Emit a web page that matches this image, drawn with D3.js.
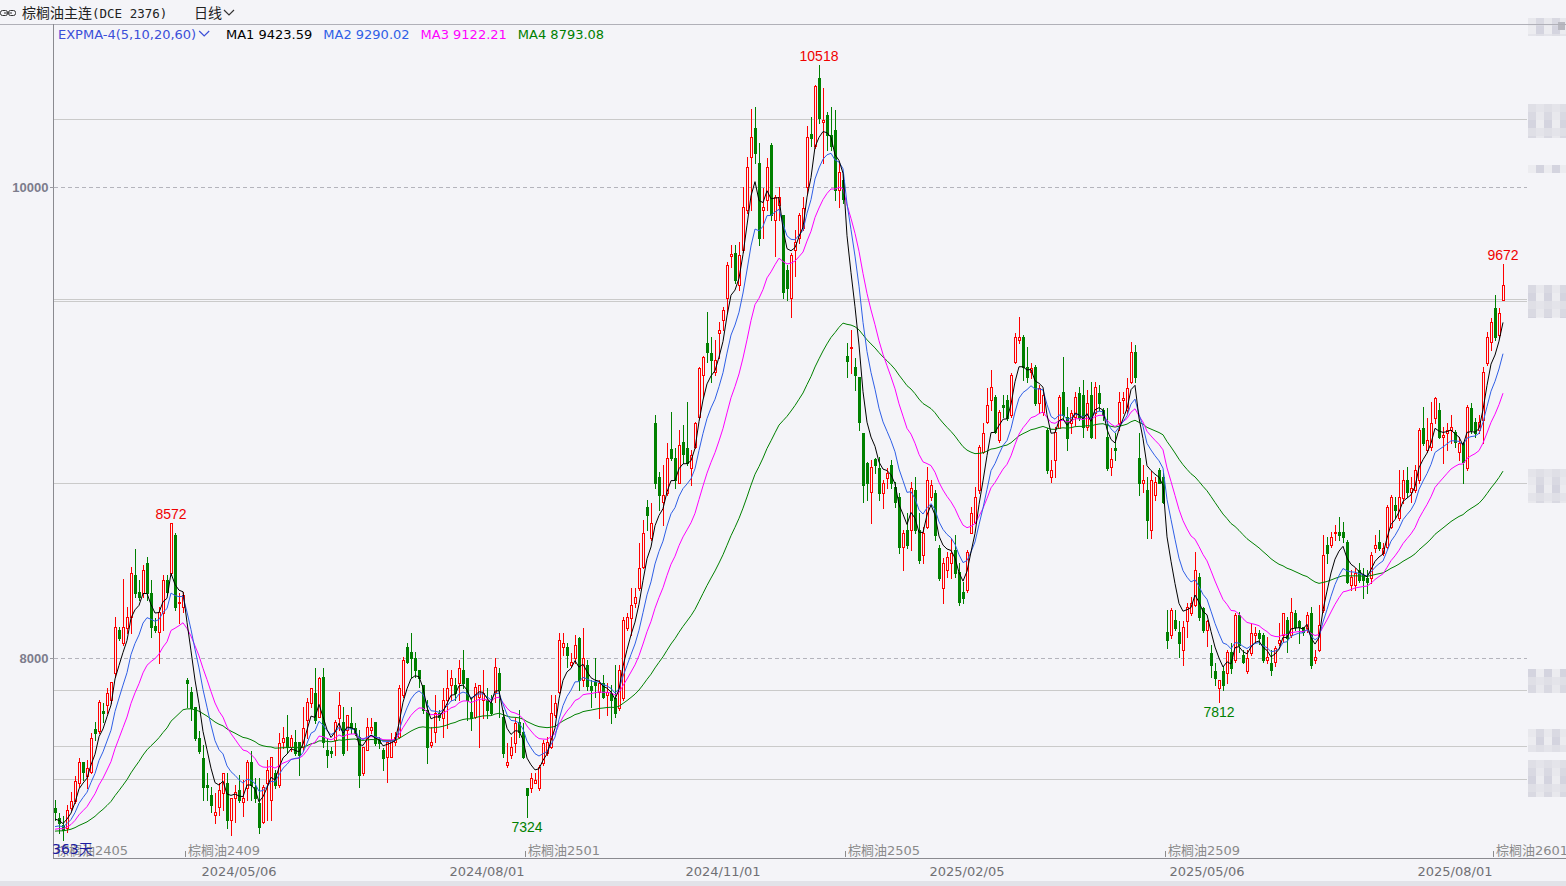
<!DOCTYPE html>
<html><head><meta charset="utf-8">
<script src="https://cdn.jsdelivr.net/npm/d3@7"></script>
<style>
html,body{margin:0;padding:0;background:#f4f4f8;}
svg{display:block;}
</style></head><body>
<svg id="c" width="1566" height="886"></svg>
<script>
// ---------- DATA ----------
// daily candles [open, high, low, close], 363 bars
const ohlc = [
// 0-9
[7362,7398,7312,7348],[7320,7341,7256,7299],[7291,7327,7228,7270],[7277,7377,7263,7355],[7362,7433,7355,7391],[7391,7497,7384,7476],[7469,7574,7454,7560],[7560,7560,7482,7518],[7497,7567,7447,7532],[7518,7681,7511,7659],
// 10-19
[7697,7730,7652,7681],[7688,7822,7681,7815],[7777,7808,7730,7765],[7801,7871,7765,7853],[7822,7900,7808,7900],[7935,8176,7921,8133],[8119,8133,8077,8084],[8062,8336,8055,8133],[8126,8218,8105,8176],[8176,8388,8105,8360],
// 20-29
[8353,8462,8261,8275],[8282,8331,8246,8261],[8275,8395,8261,8374],[8402,8430,8246,8275],[8275,8331,8091,8133],[8136,8169,8112,8119],[8112,8218,7978,8197],[8190,8353,8119,8331],[8331,8353,8268,8282],[8360,8572,8353,8572],
// 30-39
[8522,8530,8204,8218],[8232,8275,8147,8239],[8218,8282,8197,8268],[7907,7914,7794,7893],[7857,7878,7737,7787],[7794,7794,7652,7659],[7659,7688,7596,7603],[7574,7631,7398,7454],[7461,7511,7398,7454],[7419,7454,7348,7376],
// 40-49
[7334,7426,7298,7348],[7369,7468,7334,7440],[7426,7511,7355,7511],[7468,7511,7277,7313],[7313,7405,7249,7405],[7405,7461,7305,7433],[7440,7504,7390,7398],[7390,7482,7327,7405],[7447,7567,7398,7560],[7560,7603,7398,7461],
// 50-59
[7454,7489,7390,7405],[7383,7489,7256,7284],[7305,7461,7298,7454],[7468,7567,7313,7525],[7398,7581,7313,7581],[7511,7525,7447,7461],[7461,7681,7454,7638],[7645,7709,7617,7659],[7666,7758,7596,7624],[7624,7673,7603,7659],
// 60-69
[7645,7695,7589,7596],[7645,7645,7503,7588],[7623,7793,7609,7701],[7737,7829,7659,7814],[7807,7871,7793,7871],[7850,7956,7722,7737],[7751,7921,7751,7913],[7921,7956,7623,7645],[7609,7659,7539,7588],[7606,7623,7581,7595],
// 70-79
[7652,7737,7588,7730],[7744,7857,7694,7800],[7730,7793,7588,7595],[7694,7758,7609,7758],[7722,7793,7680,7701],[7701,7722,7673,7680],[7666,7694,7454,7503],[7510,7623,7503,7623],[7609,7744,7609,7708],[7694,7744,7680,7708],
// 80-89
[7730,7730,7630,7638],[7652,7666,7616,7638],[7609,7616,7524,7574],[7581,7645,7475,7645],[7581,7680,7581,7652],[7645,7687,7630,7666],[7666,7885,7659,7871],[7843,8005,7836,7991],[8048,8062,7977,7984],[8027,8105,7921,7998],
// 90-99
[7998,8027,7921,7949],[7949,7949,7878,7913],[7885,7885,7765,7779],[7779,7822,7553,7623],[7630,7708,7623,7645],[7687,7843,7645,7765],[7765,7779,7737,7751],[7744,7871,7666,7822],[7822,7949,7701,7871],[7885,7949,7822,7913],
// 100-109
[7885,7913,7822,7850],[7892,7991,7822,7956],[7949,8034,7871,7892],[7913,7913,7737,7822],[7772,7836,7694,7744],[7751,7892,7744,7878],[7836,7885,7623,7885],[7822,7949,7744,7850],[7822,7871,7744,7779],[7807,7843,7758,7765],
// 110-119
[7857,7998,7814,7963],[7935,7956,7751,7864],[7751,7779,7581,7595],[7546,7638,7539,7560],[7588,7666,7574,7623],[7638,7744,7602,7722],[7730,7779,7666,7687],[7687,7722,7574,7581],[7447,7447,7324,7418],[7447,7510,7432,7489],
// 120-129
[7468,7510,7468,7482],[7447,7546,7440,7539],[7553,7652,7546,7638],[7595,7666,7588,7645],[7623,7843,7616,7765],[7758,7843,7751,7807],[7857,8105,7850,8076],[8048,8105,8013,8062],[8048,8062,7963,8013],[7970,8020,7963,7984],
// 130-139
[7998,8098,7977,8055],[8083,8090,7864,7906],[7907,8126,7879,7999],[7971,7992,7864,7879],[7879,7907,7794,7864],[7900,7999,7836,7886],[7857,7907,7744,7893],[7893,7928,7829,7836],[7843,7893,7758,7857],[7850,7886,7723,7822],
// 140-149
[7829,7971,7751,7765],[7787,7971,7779,7949],[7829,8176,7822,8161],[8126,8190,8119,8176],[8168,8296,8098,8225],[8232,8296,8218,8260],[8296,8487,8289,8381],[8388,8586,8381,8529],[8640,8671,8544,8607],[8508,8657,8501,8572],
// 150-159
[8996,9032,8720,8742],[8770,8791,8628,8692],[8664,8819,8565,8692],[8699,8912,8692,8848],[8886,9046,8841,8848],[8848,8890,8720,8756],[8742,8968,8742,8904],[8918,8989,8827,8866],[8890,9088,8819,8827],[8805,8883,8735,8862],
// 160-169
[8897,9003,8890,8996],[9025,9237,9018,9230],[9201,9282,9109,9279],[9336,9470,9258,9301],[9296,9364,9173,9265],[9216,9350,9202,9265],[9379,9428,9272,9393],[9435,9492,9393,9478],[9527,9683,9470,9669],[9705,9754,9662,9716],
// 170-179
[9719,9754,9591,9606],[9584,9768,9563,9712],[9733,10002,9726,9917],[9903,10129,9889,10087],[10129,10330,9903,10211],[10249,10341,10101,10143],[10101,10186,9754,9782],[9903,9995,9782,9917],[9945,10122,9903,10084],[10179,10186,9860,9882],
// 180-189
[9860,9966,9705,9959],[9924,10002,9860,9959],[9882,9882,9528,9556],[9648,9669,9521,9570],[9528,9719,9450,9712],[9733,9818,9620,9768],[9782,9889,9761,9882],[9825,9959,9818,9910],[10001,10257,9974,10213],[10225,10299,10172,10207],
// 190-199
[10172,10433,10165,10429],[10462,10518,10271,10292],[10278,10419,10101,10285],[10306,10320,10157,10221],[10221,10341,10157,10172],[10242,10327,9945,9988],[9988,10101,9917,10065],[10030,10060,9930,9950],[9282,9336,9195,9262],[9315,9393,9209,9322],
// 200-209
[9237,9272,9138,9202],[9195,9195,8968,9004],[8954,8954,8664,8735],[8827,8834,8671,8742],[8706,8841,8572,8812],[8844,8848,8784,8820],[8805,8855,8671,8699],[8699,8756,8636,8742],[8763,8805,8720,8784],[8820,8841,8720,8742],
// 210-219
[8728,8749,8643,8664],[8685,8699,8445,8473],[8473,8544,8374,8530],[8544,8614,8466,8480],[8544,8749,8459,8720],[8713,8770,8530,8544],[8544,8614,8402,8416],[8437,8558,8402,8530],[8558,8812,8551,8756],[8685,8756,8671,8735],
// 220-229
[8699,8713,8501,8522],[8466,8480,8331,8339],[8296,8423,8232,8402],[8374,8452,8346,8430],[8402,8508,8338,8445],[8459,8522,8346,8360],[8367,8402,8225,8239],[8282,8324,8232,8254],[8289,8459,8282,8452],[8530,8643,8530,8614],
// 230-239
[8579,8728,8572,8685],[8713,8904,8699,8897],[8876,8996,8869,8954],[9004,9145,8996,9074],[9096,9223,9053,9152],[9110,9117,8954,8961],[8926,9053,8919,9046],[9074,9117,9025,9067],[9096,9117,9011,9018],[9032,9209,9025,9202],
// 240-249
[9258,9378,9251,9364],[9350,9449,9336,9364],[9364,9371,9180,9237],[9237,9322,9173,9195],[9216,9251,9187,9230],[9237,9244,9074,9081],[9081,9159,9039,9145],[9046,9138,9032,9117],[8968,8975,8784,8798],[8770,8841,8749,8798],
// 250-259
[8841,8982,8770,8961],[8975,9117,8975,9110],[9131,9279,9011,9032],[9025,9067,8883,8933],[8996,9053,8954,9039],[9025,9131,8989,9110],[9124,9152,9011,9018],[9117,9180,8940,8982],[8982,9138,8968,9081],[9117,9173,8933,8940],
// 260-269
[9039,9173,8933,9152],[9124,9159,9053,9081],[9053,9060,9011,9032],[8940,9060,8798,8805],[8812,8890,8777,8844],[8890,8954,8841,8883],[8996,9131,8968,9088],[9096,9131,9039,9103],[9053,9187,9039,9145],[9173,9343,9166,9301],
// 270-279
[9301,9329,9173,9195],[8848,8954,8692,8742],[8742,8820,8707,8756],[8714,8770,8508,8586],[8544,8792,8508,8756],[8693,8770,8671,8749],[8799,8806,8742,8742],[8770,8785,8657,8664],[8112,8204,8042,8077],[8098,8211,8084,8204],
// 280-289
[8162,8204,8119,8126],[8112,8155,8006,8063],[8035,8155,7971,8133],[8155,8233,8091,8218],[8190,8261,8183,8232],[8226,8452,8219,8374],[8346,8360,8162,8176],[8211,8218,8112,8119],[8119,8162,8049,8155],[8020,8056,7921,7971],
// 290-299
[7943,7978,7886,7914],[7872,7907,7812,7907],[7943,7964,7865,7886],[7935,8034,7893,8027],[8027,8063,7935,7957],[7992,8190,7985,8183],[8183,8197,8027,8056],[8013,8035,7978,7985],[7943,8035,7935,7999],[8020,8148,8013,8105],
// 300-309
[8098,8133,8070,8105],[8105,8120,8060,8084],[8098,8105,7985,7992],[7992,8091,7978,8006],[7978,8035,7929,7950],[7985,8049,7964,8042],[8063,8148,8056,8077],[8098,8190,8070,8190],[8162,8176,8027,8084],[8098,8254,8091,8197],
// 310-319
[8190,8204,8119,8133],[8155,8162,8063,8133],[8133,8133,8098,8112],[8126,8197,8112,8183],[8190,8218,7957,7971],[7992,8035,7978,8006],[8035,8226,8028,8141],[8204,8523,8197,8438],[8480,8515,8402,8445],[8480,8537,8473,8515],
// 320-329
[8530,8565,8501,8537],[8537,8600,8501,8522],[8537,8579,8494,8515],[8494,8501,8317,8324],[8310,8374,8289,8346],[8310,8381,8289,8360],[8374,8402,8324,8331],[8353,8381,8254,8331],[8338,8374,8275,8324],[8338,8452,8317,8437],
// 330-339
[8466,8522,8452,8480],[8494,8544,8459,8466],[8445,8487,8437,8466],[8473,8650,8466,8643],[8558,8692,8551,8685],[8650,8685,8600,8628],[8593,8798,8586,8685],[8678,8798,8657,8756],[8756,8812,8685,8706],[8706,8770,8664,8720],
// 340-349
[8713,8819,8706,8798],[8756,8975,8742,8968],[8975,9067,8904,8911],[8883,9018,8876,8926],[8897,9088,8883,8996],[9018,9109,8996,9102],[9053,9081,8933,8940],[8940,8982,8827,8947],[8954,8996,8883,8968],[8968,9032,8911,8982],
// 350-359
[8961,8968,8897,8919],[8876,8940,8841,8911],[8911,8918,8742,8834],[8805,9074,8798,9067],[9060,9081,8954,8968],[9004,9018,8940,8954],[8968,9032,8954,9004],[9011,9237,8911,9216],[9251,9386,9244,9364],[9343,9442,9308,9428],
// 360-362
[9485,9541,9350,9364],[9371,9485,9357,9463],[9520,9672,9520,9584]
];

const titleName = "棕榈油主连";
const titleCode = "(DCE 2376)";
const periodLabel = "日线";
const emaPeriods = [5, 10, 20, 60];
const emaStart = [7300, 7270, 7265, 7262];           // level of each line at the left edge
const emaNames = ["MA1", "MA2", "MA3", "MA4"];
const emaLast = ["9423.59", "9290.02", "9122.21", "8793.08"];
const emaColors = ["#000000", "#2f5fe6", "#ff00ff", "#008000"];

const yTicks = [8000, 10000];
const levelLines = [10287, 9523, 9517, 8742, 7864, 7627, 7488];

const contractRolls = [
  {i: 0, label: "棕榈油2405"}, {i: 33, label: "棕榈油2409"}, {i: 118, label: "棕榈油2501"},
  {i: 198, label: "棕榈油2505"}, {i: 278, label: "棕榈油2509"}, {i: 360, label: "棕榈油2601"}
];
const dateTicks = [
  {i: 46, label: "2024/05/06"}, {i: 108, label: "2024/08/01"}, {i: 167, label: "2024/11/01"},
  {i: 228, label: "2025/02/05"}, {i: 288, label: "2025/05/06"}, {i: 350, label: "2025/08/01"}
];
const markedHighs = [29, 191, 362];
const markedLows = [118, 291];

// ---------- DRAW ----------
const W = 1566, H = 886;
const plot = {left: 53, top: 24, right: 1527, bottom: 858};
const BG = "#f4f4f8";
const UP = "#ff0000", DOWN = "#008000";
const svg = d3.select("#c");

svg.append("rect").attr("width", W).attr("height", H).attr("fill", BG);
svg.append("rect").attr("x", 0).attr("y", 881).attr("width", W).attr("height", 5).attr("fill", "#e2e2e8");

const x = d3.scaleBand().domain(d3.range(ohlc.length)).range([plot.left, plot.left + 4 * ohlc.length]);
const y = d3.scaleLinear().domain([8000, 10000]).range([658, 187]);
const cx = i => Math.round(x(i) + x.bandwidth() / 2);

svg.append("defs").append("clipPath").attr("id", "pc")
  .append("rect").attr("x", plot.left + 1).attr("y", plot.top + 1)
  .attr("width", plot.right - plot.left - 1).attr("height", plot.bottom - plot.top - 1);

// right side obscured panel (mosaic)
const sideBands = [[18, 36], [104, 138], [165, 173], [285, 318], [469, 503], [669, 693], [729, 752], [760, 797]];
const shades = ["#e8e8ed", "#dfdfe6", "#ececf0", "#d9d9e2", "#e4e4ea", "#d4d4df"];
const sg = svg.append("g").attr("shape-rendering", "crispEdges");
sideBands.forEach((b, k) => {
  for (let yy = b[0], r = 0; yy < b[1]; yy += 8, r++) {
    for (let xx = 1528, c = 0; xx < W; xx += 8, c++) {
      sg.append("rect").attr("x", xx).attr("y", yy).attr("width", 8)
        .attr("height", Math.min(8, b[1] - yy)).attr("fill", shades[(r * 2 + c * 3 + k) % shades.length]);
    }
  }
});
sg.append("rect").attr("x", 1558).attr("y", 22).attr("width", 7).attr("height", 8).attr("fill", "#b8b8c0");

// level lines and grid
const gl = svg.append("g").attr("shape-rendering", "crispEdges");
gl.selectAll("line.lvl").data(levelLines).join("line").attr("class", "lvl")
  .attr("x1", plot.left + 1).attr("x2", plot.right)
  .attr("y1", d => Math.round(y(d)) + 0.5).attr("y2", d => Math.round(y(d)) + 0.5)
  .attr("stroke", "#cacaca").attr("stroke-width", 1);
gl.selectAll("line.grid").data(yTicks).join("line").attr("class", "grid")
  .attr("x1", plot.left + 1).attr("x2", plot.right)
  .attr("y1", d => Math.round(y(d)) + 0.5).attr("y2", d => Math.round(y(d)) + 0.5)
  .attr("stroke", "#b4b4bc").attr("stroke-dasharray", "4,3");

// frame
const fr = svg.append("g").attr("shape-rendering", "crispEdges");
fr.append("line").attr("x1", 0).attr("x2", W).attr("y1", plot.top + 0.5).attr("y2", plot.top + 0.5).attr("stroke", "#b0b0b8");
fr.append("line").attr("x1", plot.left + 0.5).attr("x2", plot.left + 0.5).attr("y1", plot.top).attr("y2", plot.bottom + 1).attr("stroke", "#8a8a90");
fr.append("line").attr("x1", plot.left).attr("x2", W).attr("y1", plot.bottom + 0.5).attr("y2", plot.bottom + 0.5).attr("stroke", "#8a8a90");

// candles
const cg = svg.append("g").attr("clip-path", "url(#pc)").attr("shape-rendering", "crispEdges");
const cand = cg.selectAll("g.k").data(ohlc).join("g").attr("class", "k");
cand.append("line")
  .attr("x1", (d, i) => cx(i) + 0.5).attr("x2", (d, i) => cx(i) + 0.5)
  .attr("y1", d => Math.round(y(d[1]))).attr("y2", d => Math.round(y(d[2])) + 1)
  .attr("stroke", d => d[3] >= d[0] ? UP : DOWN);
cand.each(function(d, i) {
  const [o, h, l, c] = d;
  const yT = Math.round(y(Math.max(o, c))), yB = Math.round(y(Math.min(o, c)));
  const g = d3.select(this);
  if (c >= o) {
    g.append("rect").attr("x", cx(i) - 0.5).attr("y", yT + 0.5)
      .attr("width", 2).attr("height", Math.max(yB - yT, 1))
      .attr("fill", BG).attr("stroke", UP).attr("stroke-width", 1);
  } else {
    g.append("rect").attr("x", cx(i) - 1).attr("y", yT)
      .attr("width", 3).attr("height", Math.max(yB - yT, 1) + 1)
      .attr("fill", DOWN);
  }
});

// EXPMA lines
const closes = ohlc.map(d => d[3]);
const emaSeries = emaPeriods.map((n, k) => {
  let prev = emaStart[k];
  return closes.map(c => (prev = (2 * c + (n - 1) * prev) / (n + 1)));
});
const line = d3.line().x((d, i) => x(i) + x.bandwidth() / 2).y(d => y(d));
const lg = svg.append("g").attr("clip-path", "url(#pc)");
[3, 2, 1, 0].forEach(k => {
  lg.append("path").attr("d", line(emaSeries[k])).attr("fill", "none")
    .attr("stroke", emaColors[k]).attr("stroke-width", 1);
});

// extreme labels
const lab = svg.append("g").attr("font-family", "Liberation Sans, Arial, sans-serif").attr("font-size", 14).attr("text-anchor", "middle");
lab.selectAll("text.hi").data(markedHighs).join("text").attr("class", "hi")
  .attr("x", i => x(i) + x.bandwidth() / 2).attr("y", i => y(ohlc[i][1]) - 4)
  .attr("fill", "#f00000").text(i => ohlc[i][1]);
lab.selectAll("text.lo").data(markedLows).join("text").attr("class", "lo")
  .attr("x", i => x(i) + x.bandwidth() / 2).attr("y", i => y(ohlc[i][2]) + 15)
  .attr("fill", "#008000").text(i => ohlc[i][2]);

// y axis
svg.append("g").attr("transform", `translate(${plot.left + 0.5},0)`)
  .call(d3.axisLeft(y).tickValues(yTicks).tickSize(4).tickPadding(1).tickFormat(d3.format("d")))
  .call(g => g.select(".domain").remove())
  .call(g => g.selectAll("line").attr("stroke", "#9a9aa0").attr("shape-rendering", "crispEdges"))
  .call(g => g.selectAll("text").attr("font-family", "Liberation Sans, Arial, sans-serif")
    .attr("font-size", 13).attr("font-weight", "bold").attr("fill", "#7c7c8c"));

// x axis (dates)
const dateMap = new Map(dateTicks.map(d => [d.i, d.label]));
svg.append("g").attr("transform", `translate(0,${plot.bottom + 0.5})`)
  .call(d3.axisBottom(x).tickValues(dateTicks.map(d => d.i)).tickSize(0).tickPadding(8).tickFormat(i => dateMap.get(i)))
  .call(g => g.select(".domain").remove())
  .call(g => g.selectAll("text").attr("font-family", "DejaVu Sans, sans-serif").attr("font-size", 13).attr("fill", "#707074"));

// contract roll markers
const rg = svg.append("g");
rg.selectAll("line").data(contractRolls).join("line")
  .attr("x1", d => x(d.i) + 0.5).attr("x2", d => x(d.i) + 0.5)
  .attr("y1", 851).attr("y2", 857).attr("stroke", "#8c8c8c").attr("shape-rendering", "crispEdges");
rg.selectAll("text").data(contractRolls).join("text")
  .attr("x", d => x(d.i) + 3).attr("y", 855)
  .attr("font-family", "DejaVu Sans, 'Noto Sans CJK SC', sans-serif").attr("font-size", 13)
  .attr("fill", "#8a8a8a").text(d => d.label);

// bar count label
svg.append("text").attr("x", plot.left - 1).attr("y", 854)
  .attr("font-family", "DejaVu Sans, 'Noto Sans CJK SC', sans-serif").attr("font-size", 14)
  .attr("fill", "#1c1ca0").text(ohlc.length + "天");

// header
const hd = svg.append("g");
hd.append("rect").attr("x", 0.5).attr("y", 10.5).attr("width", 7).attr("height", 5).attr("rx", 2).attr("fill", "none").attr("stroke", "#333");
hd.append("rect").attr("x", 8.5).attr("y", 10.5).attr("width", 7).attr("height", 5).attr("rx", 2).attr("fill", "none").attr("stroke", "#333");
hd.append("line").attr("x1", 4).attr("x2", 12).attr("y1", 13).attr("y2", 13).attr("stroke", "#333");
const tt = hd.append("text").attr("x", 22).attr("y", 18).attr("fill", "#222");
tt.append("tspan").attr("font-family", "'Noto Sans CJK SC', sans-serif").attr("font-size", 14).text(titleName);
tt.append("tspan").attr("font-family", "'DejaVu Sans Mono', 'Liberation Mono', monospace").attr("font-size", 12.5).text(titleCode);
const pl = hd.append("text").attr("x", 194).attr("y", 18).attr("font-family", "'Noto Sans CJK SC', sans-serif")
  .attr("font-size", 14).attr("fill", "#222").text(periodLabel);
const plEnd = 194 + pl.node().getComputedTextLength();
hd.append("path").attr("d", `M${plEnd + 2},10 L${plEnd + 7},15 L${plEnd + 12},10`).attr("fill", "none").attr("stroke", "#333").attr("stroke-width", 1.2);

// legend
const lgd = svg.append("g").attr("font-family", "DejaVu Sans, sans-serif").attr("font-size", 13);
let lx = 58;
const e0 = lgd.append("text").attr("x", lx).attr("y", 39).attr("fill", "#3b4fd8").text(`EXPMA-4(${emaPeriods.join(",")})`);
lx += e0.node().getComputedTextLength();
lgd.append("path").attr("d", `M${lx + 3},31 L${lx + 8},36 L${lx + 13},31`).attr("fill", "none").attr("stroke", "#3b4fd8").attr("stroke-width", 1.2);
lx = Math.max(lx + 24, 226);
emaNames.forEach((nm, k) => {
  const t = lgd.append("text").attr("x", lx).attr("y", 39).attr("fill", emaColors[k]).text(`${nm} ${emaLast[k]}`);
  lx += t.node().getComputedTextLength() + 11;
});
</script>
</body></html>
